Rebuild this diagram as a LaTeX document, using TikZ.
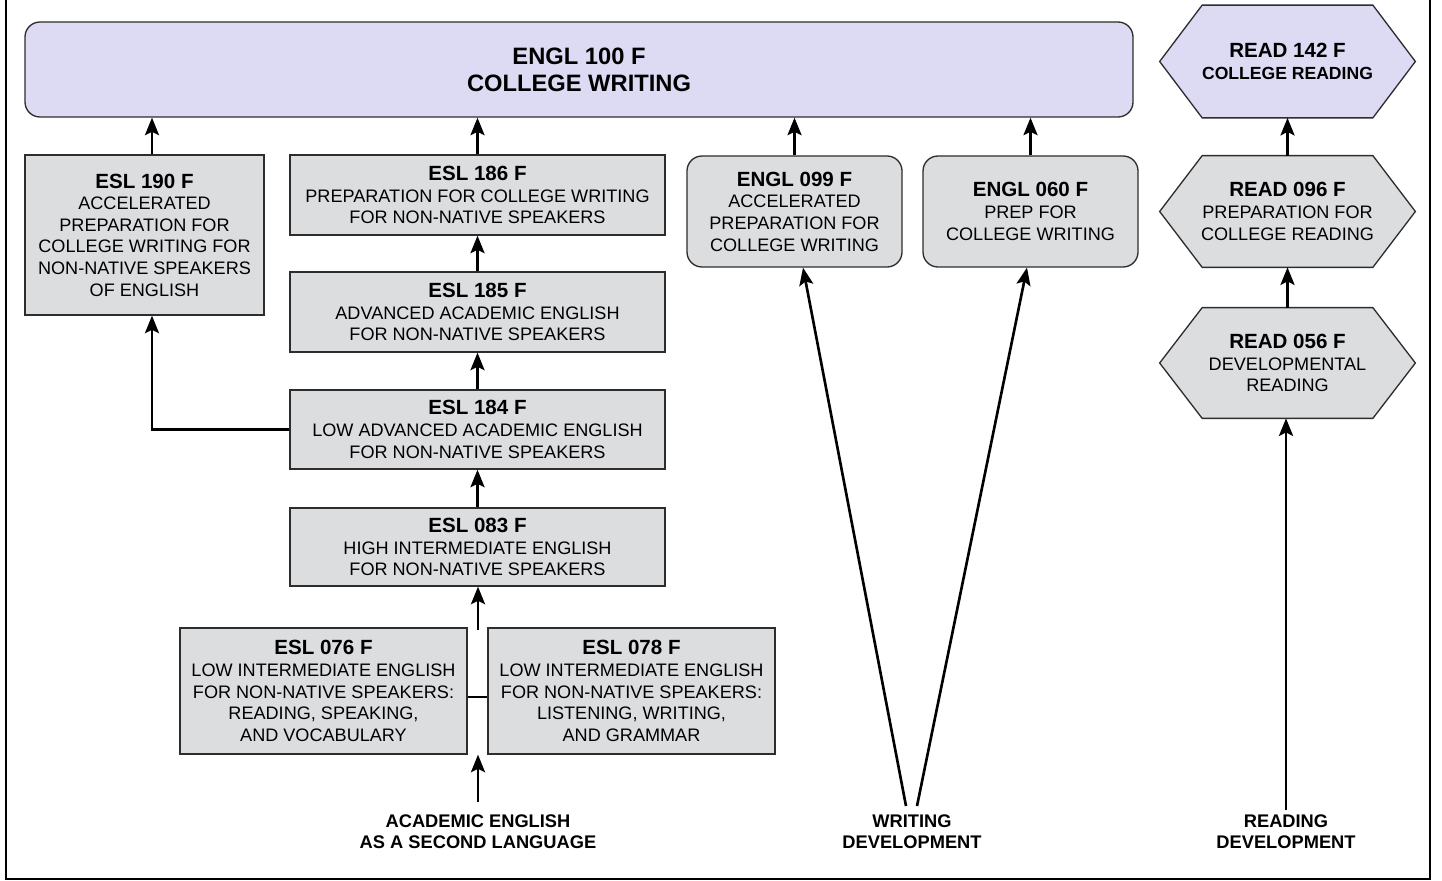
\documentclass[tikz,border=0pt]{standalone}
\usepackage{fontspec}
\setmainfont{Liberation Sans}
\usetikzlibrary{arrows.meta,backgrounds}

\definecolor{lilac}{RGB}{221,218,244}
\definecolor{boxgray}{RGB}{220,221,223}
\definecolor{edge}{RGB}{45,45,45}

\newcommand{\ttl}[1]{{\fontsize{11.7}{12.3}\selectfont\bfseries #1}}

\begin{document}
\begin{tikzpicture}[x=0.02cm, y=-0.02cm,
    every node/.style={font=\fontsize{10.3}{12.3}\selectfont, align=center, inner sep=0pt},
    wh/.style 2 args={minimum width=#1*0.02cm, minimum height=#2*0.02cm},
    box/.style={draw=edge, line width=0.75pt, fill=boxgray},
    rbox/.style={box, rounded corners=0.3cm},
    hexline/.style={draw=edge, line width=0.75pt},
    arr/.style={line width=1.5pt, -{Stealth[length=10pt,width=8pt,inset=2pt]}},
    lbl/.style={font=\fontsize{10.4}{12}\selectfont\bfseries}]
    \useasboundingbox (0,0) rectangle (1442,881);

    % Rahmen
    \draw[line width=1.1pt] (6,-5) -- (6,879) -- (1430,879) -- (1430,-5);

    % Ziel: College Writing
    \node[rbox, fill=lilac, wh={1108}{95}, font=\fontsize{13.5}{15.3}\selectfont\bfseries] (engl100) at (579,69.5)
        {ENGL 100 F\\ COLLEGE WRITING};

    % ESL-Kurse
    \node[box, wh={239}{160}] (esl190) at (144.5,235)
        {\ttl{ESL 190 F}\\ ACCELERATED\\ PREPARATION FOR\\ COLLEGE WRITING FOR\\ NON-NATIVE SPEAKERS\\ OF ENGLISH};
    \node[box, wh={375}{80}] (esl186) at (477.5,195)
        {\ttl{ESL 186 F}\\ PREPARATION FOR COLLEGE WRITING\\ FOR NON-NATIVE SPEAKERS};
    \node[box, wh={375}{80}] (esl185) at (477.5,312)
        {\ttl{ESL 185 F}\\ ADVANCED ACADEMIC ENGLISH\\ FOR NON-NATIVE SPEAKERS};
    \node[box, wh={375}{79}] (esl184) at (477.5,429.5)
        {\ttl{ESL 184 F}\\ LOW ADVANCED ACADEMIC ENGLISH\\ FOR NON-NATIVE SPEAKERS};
    \node[box, wh={375}{78}] (esl083) at (477.5,547)
        {\ttl{ESL 083 F}\\ HIGH INTERMEDIATE ENGLISH\\ FOR NON-NATIVE SPEAKERS};
    \node[box, wh={287}{126}] (esl076) at (323.5,691)
        {\ttl{ESL 076 F}\\ LOW INTERMEDIATE ENGLISH\\ FOR NON-NATIVE SPEAKERS:\\ READING, SPEAKING,\\ AND VOCABULARY};
    \node[box, wh={287}{126}] (esl078) at (631.5,691)
        {\ttl{ESL 078 F}\\ LOW INTERMEDIATE ENGLISH\\ FOR NON-NATIVE SPEAKERS:\\ LISTENING, WRITING,\\ AND GRAMMAR};

    % Writing-Kurse
    \node[rbox, wh={215}{111}] (engl099) at (794.5,211.5)
        {\ttl{ENGL 099 F}\\ ACCELERATED\\ PREPARATION FOR\\ COLLEGE WRITING};
    \node[rbox, wh={215}{111}] (engl060) at (1030.5,211.5)
        {\ttl{ENGL 060 F}\\ PREP FOR\\ COLLEGE WRITING};

    % Reading-Kurse (Sechsecke)
    \node[wh={255}{112}] (r142) at (1287.5,61.5)
        {\ttl{READ 142 F}\\ {\fontsize{10}{12}\selectfont\bfseries COLLEGE READING}};
    \node[wh={255}{111}] (r096) at (1287.5,211.5)
        {\ttl{READ 096 F}\\ PREPARATION FOR\\ COLLEGE READING};
    \node[wh={255}{110}] (r056) at (1287.5,363)
        {\ttl{READ 056 F}\\ DEVELOPMENTAL\\ READING};
    \begin{scope}[on background layer]
        \foreach \n/\c in {r142/lilac, r096/boxgray, r056/boxgray}
            \draw[hexline, fill=\c] (\n.west) -- ([xshift=0.85cm]\n.north west) -- ([xshift=-0.85cm]\n.north east)
                -- (\n.east) -- ([xshift=-0.85cm]\n.south east) -- ([xshift=0.85cm]\n.south west) -- cycle;
    \end{scope}

    % Beschriftungen unten
    \node[lbl] (asl) at (478,832) {ACADEMIC ENGLISH\\ AS A SECOND LANGUAGE};
    \node[lbl] (wdev) at (912,832) {WRITING\\ DEVELOPMENT};
    \node[lbl] (rdev) at (1286,832) {READING\\ DEVELOPMENT};

    % Pfeile ESL
    \coordinate (e0) at (478,802);
    \draw[arr] (e0) -- (e0 |- esl076.south);
    \draw[line width=1.5pt] ([yshift=-3.4pt]esl076.east) -- ([yshift=-3.4pt]esl078.west);
    \coordinate (e1) at (478,630);
    \draw[arr] (e1) -- (e1 |- esl083.south);
    \draw[arr] (esl083.north) -- (esl184.south);
    \draw[arr] (esl184.north) -- (esl185.south);
    \draw[arr] (esl185.north) -- (esl186.south);
    \draw[arr] (esl186.north) -- (esl186.north |- engl100.south);
    \coordinate (a190) at ([xshift=0.15cm]esl190.north);
    \draw[arr] (a190) -- (a190 |- engl100.south);
    \draw[arr] (esl184.west) -| ([xshift=0.15cm]esl190.south);

    % Pfeile Writing
    \coordinate (w1) at (906,806);
    \coordinate (w2) at (917,806);
    \draw[arr] (w1) -- ([xshift=0.17cm]engl099.south);
    \draw[arr] (w2) -- ([xshift=-0.07cm]engl060.south);
    \draw[arr] (engl099.north) -- (engl099.north |- engl100.south);
    \draw[arr] (engl060.north) -- (engl060.north |- engl100.south);

    % Pfeile Reading
    \coordinate (r0) at (1286,810);
    \draw[arr] (r0) -- (r0 |- r056.south);
    \draw[arr] (r056.north) -- (r096.south);
    \draw[arr] (r096.north) -- (r142.south);
\end{tikzpicture}
\end{document}
